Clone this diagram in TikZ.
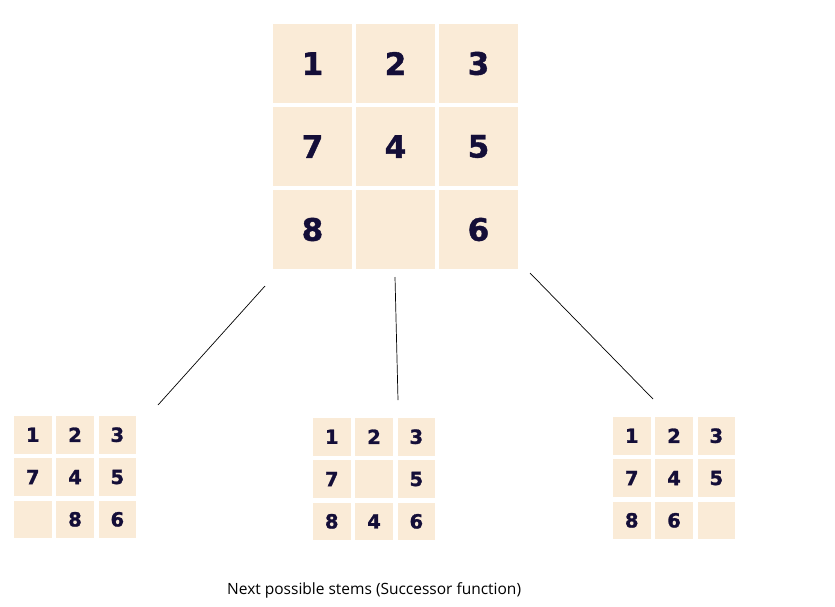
\documentclass[tikz,border=0pt]{standalone}
\usepackage{fontspec}
\newfontfamily\digitfont{DejaVu Sans Bold}[FakeBold=1.3]
\newfontfamily\capfont{Open Sans}
\definecolor{tile}{HTML}{FAEBD7}
\definecolor{ink}{HTML}{140E38}
\tikzset{
  tilebox/.style={fill=tile, draw=none, inner sep=0pt, text=ink, anchor=center},
  bigdigit/.style={font=\digitfont\fontsize{31}{31}\selectfont},
  smalldigit/.style={font=\digitfont\fontsize{19.5}{19.5}\selectfont},
  link/.style={draw=black, line width=0.7pt},
  caption/.style={font=\capfont\fontsize{15.5}{16}\selectfont, inner sep=0pt}
}
% #1 name, #2 x left, #3 y top, #4 cell size, #5 pitch, #6 digit style, #7 entries
\newcommand{\puzzlegrid}[7]{%
  \foreach \v [count=\i from 0] in {#7} {
    \pgfmathtruncatemacro\rr{div(\i,3)}
    \pgfmathtruncatemacro\cc{mod(\i,3)}
    \node[tilebox, #6, minimum width=#4pt, minimum height=#4pt]
      (#1-\i) at ({#2+#4/2+\cc*#5},{#3+#4/2+\rr*#5}) {\v};
  }%
}
\begin{document}
\begin{tikzpicture}[x=1pt,y=-1pt]
\useasboundingbox (0,0) rectangle (835,606);
% top state
\puzzlegrid{top}{273}{24}{79}{83}{bigdigit}{1,2,3,7,4,5,8,{},6}
% children
\puzzlegrid{left}{14}{416}{37.5}{42.3}{smalldigit}{1,2,3,7,4,5,{},8,6}
\puzzlegrid{mid}{313}{418}{37.5}{42.3}{smalldigit}{1,2,3,7,{},5,8,4,6}
\puzzlegrid{right}{613}{417}{37.5}{42.3}{smalldigit}{1,2,3,7,4,5,8,6,{}}
% connector ends
\coordinate (l1a) at (265,286);
\coordinate (l1b) at (158,405);
\coordinate (l2a) at (395,277);
\coordinate (l2b) at (398,400);
\coordinate (l3a) at (530,273);
\coordinate (l3b) at (653,399);
\draw[link] (l1a) -- (l1b);
\draw[link] (l2a) -- (l2b);
\draw[link] (l3a) -- (l3b);
\node[caption, anchor=west] (cap) at (227,590) {Next possible stems (Successor function)};
\end{tikzpicture}
\end{document}
